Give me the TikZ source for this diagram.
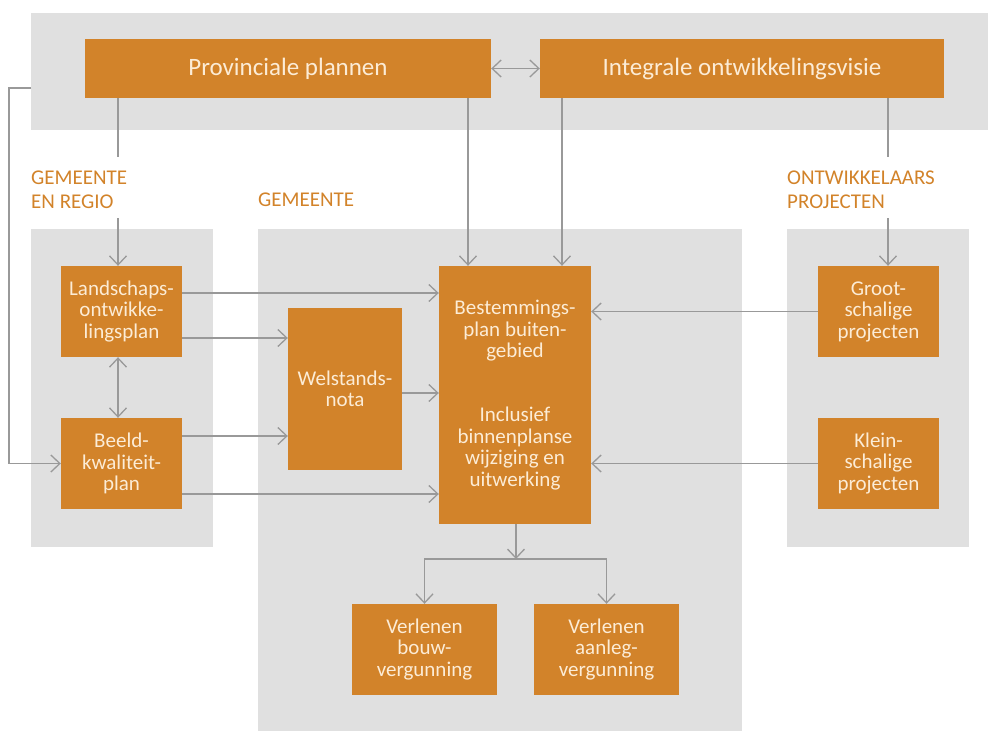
\documentclass[tikz,border=0pt]{standalone}
\usepackage{fontspec}
\setmainfont{Carlito}
\usetikzlibrary{arrows.meta}
\definecolor{boxorange}{RGB}{210,131,42}
\definecolor{panelgray}{RGB}{224,224,224}
\definecolor{linegray}{RGB}{153,153,153}
\definecolor{boxtext}{RGB}{252,236,214}

\begin{document}
\begin{tikzpicture}[x=1pt,y=-1pt,
 box/.style={fill=boxorange,text=boxtext,align=center,inner sep=0pt,font=\fontsize{21}{21.5}\selectfont},
 bigbox/.style={box,minimum height=59pt,font=\fontsize{25}{28}\selectfont},
 lbl/.style={text=boxorange,align=left,inner sep=0pt,font=\fontsize{21}{24}\selectfont},
 conn/.style={draw=linegray,line width=1.3pt},
 arr/.style={conn,-{Straight Barb[length=9pt,width=17pt]}},
 darr/.style={conn,{Straight Barb[length=9pt,width=17pt]}-{Straight Barb[length=9pt,width=17pt]}}]
 \useasboundingbox (0,0) rectangle (988,731);
 \fill[panelgray](31,13) rectangle (988,130);
 \fill[panelgray](31,229) rectangle (213,547);
 \fill[panelgray](258,229) rectangle (742,731);
 \fill[panelgray](787,229) rectangle (969,547);

 \node[bigbox,minimum width=406pt] (pp) at (288,68.5) {Provinciale plannen};
 \node[bigbox,minimum width=404pt] (iov) at (742,68.5) {Integrale ontwikkelingsvisie};
 \node[box,minimum width=121pt,minimum height=91pt] (lop) at (121.5,311.5) {Landschaps-\\ontwikke-\\lingsplan};
 \node[box,minimum width=121pt,minimum height=91pt] (bkp) at (121.5,463.5) {Beeld-\\kwaliteit-\\plan};
 \node[box,minimum width=114pt,minimum height=162pt] (wn) at (345,389) {Welstands-\\nota};
 \node[box,minimum width=152pt,minimum height=258pt] (bp) at (515,395) {Bestemmings-\\plan buiten-\\gebied\\[42.6pt]Inclusief\\binnenplanse\\wijziging en\\uitwerking};
 \node[box,minimum width=121pt,minimum height=91pt] (gp) at (878.5,311.5) {Groot-\\schalige\\projecten};
 \node[box,minimum width=121pt,minimum height=91pt] (kp) at (878.5,463.5) {Klein-\\schalige\\projecten};
 \node[box,minimum width=145pt,minimum height=91pt] (vb) at (424.5,649.5) {Verlenen\\bouw-\\vergunning};
 \node[box,minimum width=145pt,minimum height=91pt] (va) at (606.5,649.5) {Verlenen\\aanleg-\\vergunning};

 \node[lbl,anchor=west] (lgr) at (31,190) {GEMEENTE\\EN REGIO};
 \node[lbl,anchor=base west] (lgm) at (258,206) {GEMEENTE};
 \node[lbl,anchor=west] (lopr) at (787,190) {ONTWIKKELAARS\\PROJECTEN};

 \coordinate (band) at (31,88);
 \coordinate (g1) at (0,157);
 \coordinate (g2) at (0,218);
 \coordinate (c1) at (118,0);
 \coordinate (c2) at (468,0);
 \coordinate (c3) at (562,0);
 \coordinate (c4) at (888,0);
 \coordinate (r1) at (0,293);
 \coordinate (r2) at (0,338);
 \coordinate (r3) at (0,393);
 \coordinate (r4) at (0,436);
 \coordinate (r5) at (0,494);
 \coordinate (sp) at (516,559);

 \draw[darr](pp.east) -- (iov.west);
 \draw[arr](band) -- ++(-22,0) |- (bkp.west);
 \draw[conn](pp.south -| c1) -- (c1 |- g1);
 \draw[arr](c1 |- g2) -- (lop.north -| c1);
 \draw[arr](pp.south -| c2) -- (bp.north -| c2);
 \draw[arr](iov.south -| c3) -- (bp.north -| c3);
 \draw[conn](iov.south -| c4) -- (c4 |- g1);
 \draw[arr](c4 |- g2) -- (gp.north -| c4);
 \draw[darr](lop.south -| c1) -- (bkp.north -| c1);
 \draw[arr](lop.east |- r1) -- (bp.west |- r1);
 \draw[arr](lop.east |- r2) -- (wn.west |- r2);
 \draw[arr](wn.east |- r3) -- (bp.west |- r3);
 \draw[arr](bkp.east |- r4) -- (wn.west |- r4);
 \draw[arr](bkp.east |- r5) -- (bp.west |- r5);
 \draw[arr](gp.west) -- (gp.west -| bp.east);
 \draw[arr](kp.west) -- (kp.west -| bp.east);
 \draw[arr](bp.south -| sp) -- (sp);
 \draw[arr](sp) -| (vb.north);
 \draw[arr](sp) -| (va.north);
\end{tikzpicture}
\end{document}
